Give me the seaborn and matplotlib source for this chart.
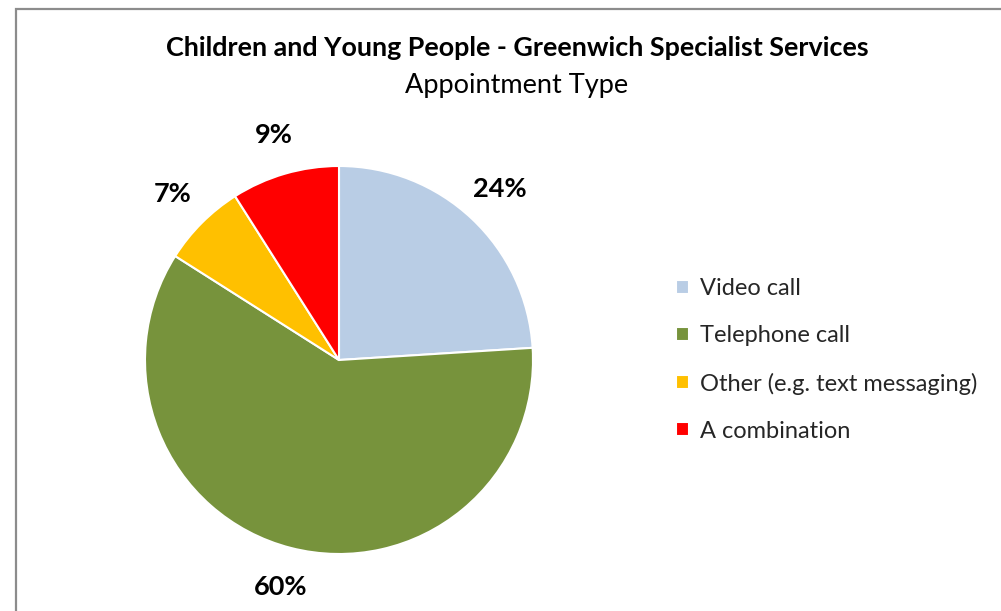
import matplotlib
matplotlib.use("Agg")
import matplotlib.pyplot as plt
import seaborn as sns
from matplotlib.patches import Rectangle

CATEGORIES = ["Video call", "Telephone call", "Other (e.g. text messaging)", "A combination"]
SHARES     = [24, 60, 7, 9]
COLORS     = ["#B9CDE5", "#77933C", "#FFC000", "#FF0000"]
TITLE      = "Children and Young People - Greenwich Specialist Services"
SUBTITLE   = "Appointment Type"

sns.set_theme(style="white")
plt.rcParams["font.family"] = ["Lato", "DejaVu Sans"]

W, H = 1001, 611
fig = plt.figure(figsize=(W / 100, H / 100), dpi=100)
fig.patch.set_facecolor("white")

# chart frame (only left and top edges visible in the crop)
fig.patches.append(Rectangle((16 / W, -0.1), 1.2, (H - 9) / H + 0.1,
                             transform=fig.transFigure, fill=False,
                             edgecolor="#8C8C8C", linewidth=1.6))

# pie axes: centre (339, 360) px, radius 194 px
cx, cy, r = 339, 360, 194
half = 1.5 * r
ax = fig.add_axes([(cx - half) / W, (H - cy - half) / H, 2 * half / W, 2 * half / H])
wedges, texts, autotexts = ax.pie(
    SHARES, colors=COLORS, startangle=90, counterclock=False,
    autopct=lambda p: f"{p:.0f}%", pctdistance=1.21,
    wedgeprops=dict(edgecolor="white", linewidth=1.5),
    textprops=dict(fontsize=19.5, fontweight="bold", color="black"))
ax.set_xlim(-1.5, 1.5)
ax.set_ylim(-1.5, 1.5)
ax.set_aspect("equal")
for t in autotexts:
    t.set_clip_on(False)

fig.text(517 / W, 1 - 48 / H, TITLE, ha="center", va="center",
         fontsize=19.4, fontweight="bold", color="black")
fig.text(517 / W, 1 - 85 / H, SUBTITLE, ha="center", va="center",
         fontsize=19.5, color="black")

fig.legend(wedges, CATEGORIES, loc="center left",
           bbox_to_anchor=(655 / W, 1 - 360 / H), frameon=False,
           fontsize=17, handlelength=0.55, handleheight=0.55,
           handletextpad=0.45, labelspacing=1.1)

fig.savefig("out.png", dpi=100)
